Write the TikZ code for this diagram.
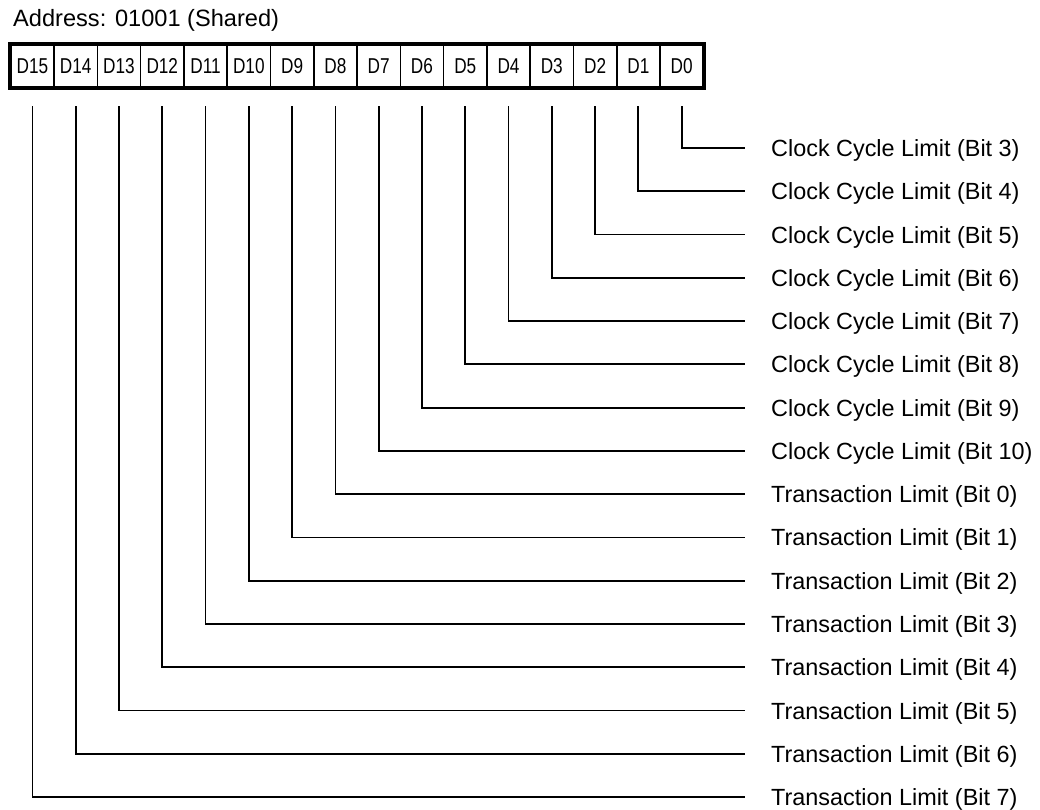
\documentclass[tikz,border=0pt]{standalone}
\usepackage{fontspec}
\setmainfont{Liberation Sans}
\newfontfamily\narrowfont[FakeStretch=0.8]{Liberation Sans}
\begin{document}
\begin{tikzpicture}[x=1pt,y=-1pt,
  cell/.style={draw=black, line width=1.6pt, minimum width=43.28pt, minimum height=42.7pt, inner sep=0pt, font=\narrowfont\fontsize{21.5}{24}\selectfont, anchor=north west},
  frame/.style={draw=black, line width=4pt},
  conn/.style={draw=black, line width=1.8pt},
  lab/.style={anchor=base west, inner sep=0pt, font=\fontsize{23.4}{27}\selectfont},
  title/.style={anchor=base west, inner sep=0pt, font=\fontsize{23.6}{27}\selectfont}]
\useasboundingbox (0,0) rectangle (1040,810);
\node[title] (addr) at (13,27) {Address: 01001 (Shared)};
\foreach \i in {0,...,15} {
  \pgfmathsetmacro\xx{10+43.28*(15-\i)}
  \node[cell] (d\i) at (\xx,44) {D\i};
}
\draw[frame] (d15.north west) rectangle (d0.south east);
\foreach \i in {0,...,15} {
  \pgfmathsetmacro\yy{148+43.27*\i}
  \pgfmathtruncatemacro\b{\i<8 ? \i+3 : \i-8}
  \coordinate (e\i) at (745,\yy);
  \ifnum\i<8
    \node[lab] (l\i) at (771,\yy+8.5) {Clock Cycle Limit (Bit \b)};
  \else
    \node[lab] (l\i) at (771,\yy+8.5) {Transaction Limit (Bit \b)};
  \fi
  \draw[conn] ([yshift=-18pt]d\i.south) |- (e\i);
}
\end{tikzpicture}
\end{document}
